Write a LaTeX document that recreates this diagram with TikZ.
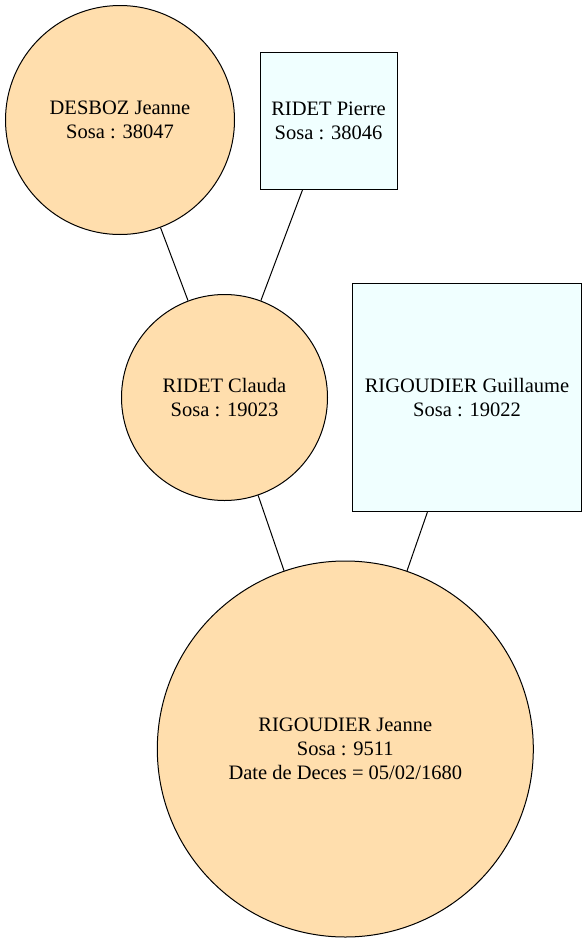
\documentclass[tikz,border=0pt]{standalone}
\usepackage{fontspec}
\IfFontExistsTF{Liberation Serif}{\setmainfont{Liberation Serif}}{\setmainfont{LiberationSerif-Regular.ttf}}
\usepackage{tikz}
\definecolor{navajo}{HTML}{FFDEAD}
\definecolor{azur}{HTML}{F0FFFF}

\begin{document}
\begin{tikzpicture}[x=1pt,y=-1pt,
	femme/.style={draw,circle,fill=navajo,inner sep=0pt,line width=1pt,align=center,font=\rmfamily\fontsize{20.5}{24}\selectfont},
	homme/.style={draw,rectangle,fill=azur,inner sep=0pt,line width=1pt,align=center,font=\rmfamily\fontsize{20.5}{24}\selectfont}]
\useasboundingbox (0,0) rectangle (587,943);

	\node[femme,minimum size=229pt] (desboz) at (120,120) {DESBOZ Jeanne\\Sosa : 38047};
	\node[homme,minimum width=137pt,minimum height=137pt] (pierre) at (328.5,120.5) {RIDET Pierre\\Sosa : 38046};
	\node[femme,minimum size=206pt] (claude) at (224.5,397.5) {RIDET Clauda\\Sosa : 19023};
	\node[homme,minimum width=229pt,minimum height=228pt] (guillaume) at (467,397.7) {RIGOUDIER Guillaume\\Sosa : 19022};
	\node[femme,minimum size=376pt] (jeanne) at (345.3,749) {RIGOUDIER Jeanne\\Sosa : 9511\\Date de Deces = 05/02/1680};

\foreach \a/\b in {desboz/claude, pierre/claude, claude/jeanne, guillaume/jeanne}
	{
	\draw [line width=1pt] (\a) -- (\b);
	}
\end{tikzpicture}
\end{document}
